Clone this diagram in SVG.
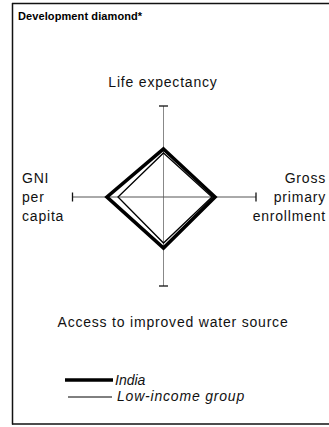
<svg xmlns="http://www.w3.org/2000/svg" width="329" height="427" viewBox="0 0 329 427">
<style>
.lbl{font-family:"Liberation Sans",Arial,sans-serif;font-size:14px;fill:#111;letter-spacing:0.8px}
.title{font-family:"Liberation Sans",Arial,sans-serif;font-size:11px;font-weight:bold;fill:#000;letter-spacing:0.1px}
.leg{font-family:"Liberation Sans",Arial,sans-serif;font-size:14px;font-style:italic;fill:#111}
.frame{stroke:#111;stroke-width:1.5;fill:none}
.tick{stroke:#111;stroke-width:1.3}
.india{fill:none;stroke:#000;stroke-width:3.6;stroke-linejoin:miter}
.low{fill:none;stroke:#000;stroke-width:1.3;stroke-linejoin:miter}
</style>
<rect width="329" height="427" fill="#fff"/>
<g id="frame" class="frame">
<line x1="12" y1="3.5" x2="329" y2="3.5"/>
<line x1="12.5" y1="3" x2="12.5" y2="424.5"/>
<line x1="12" y1="424" x2="329" y2="424"/>
</g>
<text id="title" class="title" x="18" y="20">Development diamond*</text>
<g id="axes">
<line x1="163.5" y1="106" x2="163.5" y2="286" stroke="#888" stroke-width="1"/>
<line x1="72.5" y1="197" x2="256" y2="197" stroke="#555" stroke-width="1"/>
<g class="tick">
<line x1="159" y1="106" x2="168" y2="106"/>
<line x1="159" y1="286" x2="168" y2="286"/>
<line x1="72.5" y1="192.5" x2="72.5" y2="201.5"/>
<line x1="256" y1="192.5" x2="256" y2="201.5"/>
</g>
</g>
<g id="series">
<polygon id="india" class="india" points="163.5,149 215,197 163.5,248 107,197"/>
<polygon id="low-income" class="low" points="163.5,153 212,197 163.5,243 118,197"/>
</g>
<g id="labels" class="lbl">
<text x="163" y="87" text-anchor="middle">Life expectancy</text>
<text x="22" y="183">GNI</text>
<text x="22" y="202">per</text>
<text x="22" y="221">capita</text>
<text x="326" y="183" text-anchor="end">Gross</text>
<text x="326" y="202" text-anchor="end">primary</text>
<text x="326" y="221" text-anchor="end">enrollment</text>
<text x="173" y="327" text-anchor="middle">Access to improved water source</text>
</g>
<g id="legend">
<line x1="65" y1="380" x2="113" y2="380" stroke="#000" stroke-width="3.6"/>
<text class="leg" x="115" y="385">India</text>
<line x1="68" y1="397" x2="112" y2="397" stroke="#000" stroke-width="1"/>
<text class="leg" x="117" y="401" letter-spacing="0.8">Low-income group</text>
</g>
</svg>
